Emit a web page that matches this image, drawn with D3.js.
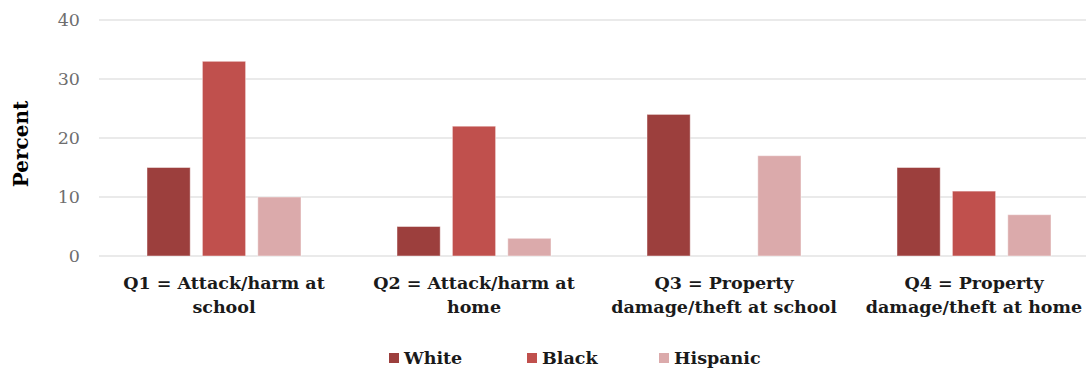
<!DOCTYPE html>
<html>
<head>
<meta charset="utf-8">
<script src="https://cdn.jsdelivr.net/npm/d3@7"></script>
<style>
  html, body { margin: 0; padding: 0; background: #fff; }
  svg { display: block; }
</style>
</head>
<body>
<svg id="chart" width="1086" height="370"></svg>
<script>
// Survey questions (two-line category labels)
const categories = ["Q1", "Q2", "Q3", "Q4"];
const categoryLabels = [
  ["Q1 = Attack/harm at", "school"],
  ["Q2 = Attack/harm at", "home"],
  ["Q3 = Property", "damage/theft at school"],
  ["Q4 = Property", "damage/theft at home"]
];
const seriesNames = ["White", "Black", "Hispanic"];
const whiteValues = [15, 5, 24, 15];
const blackValues = [33, 22, 0, 11];
const hispanicValues = [10, 3, 17, 7];
const yTicks = [0, 10, 20, 30, 40];

const seriesValues = [whiteValues, blackValues, hispanicValues];
const colors = ["#9c3f3d", "#c0504d", "#dbaaab"];

const svg = d3.select("#chart");
const margin = { left: 99, right: -13, top: 20, bottom: 114 };
const W = 1086, H = 370;

const x = d3.scaleBand().domain(categories)
  .range([margin.left, W - margin.right]).paddingInner(0).paddingOuter(0);
const xs = d3.scaleBand().domain(seriesNames)
  .range([0, 154]).paddingInner(0.22).paddingOuter(0);
const y = d3.scaleLinear().domain([0, 40]).range([H - margin.bottom, margin.top]);

const serif = "'DejaVu Serif', 'Liberation Serif', serif";

// gridlines
svg.append("g").selectAll("line").data(yTicks).join("line")
  .attr("x1", margin.left).attr("x2", W)
  .attr("y1", d => y(d)).attr("y2", d => y(d))
  .attr("stroke", "#e3e3e3").attr("stroke-width", 1.5);

// y axis labels
const yAxis = d3.axisLeft(y).tickValues(yTicks).tickSize(0).tickPadding(0);
const gy = svg.append("g").attr("transform", `translate(${margin.left - 19},0)`).call(yAxis);
gy.select(".domain").remove();
gy.selectAll("text")
  .attr("font-family", serif).attr("font-size", 17.5).attr("fill", "#6e6e6e");

// y axis title
svg.append("text")
  .attr("transform", `translate(28,${(y(0) + y(40)) / 2 + 6}) rotate(-90)`)
  .attr("text-anchor", "middle")
  .attr("font-family", serif).attr("font-weight", "bold").attr("font-size", 20)
  .attr("fill", "#000").text("Percent");

// bars
const groups = svg.append("g").selectAll("g").data(categories).join("g")
  .attr("transform", d => `translate(${x(d) + (x.bandwidth() - 154) / 2},0)`);

groups.selectAll("rect")
  .data((c, i) => seriesNames.map((s, j) => ({ s, j, v: seriesValues[j][i] })).filter(d => d.v > 0))
  .join("rect")
  .attr("x", d => xs(d.s))
  .attr("width", xs.bandwidth())
  .attr("y", d => y(d.v))
  .attr("height", d => y(0) - y(d.v))
  .attr("fill", d => colors[d.j])
  .attr("stroke", "rgba(255,255,255,0.45)")
  .attr("stroke-width", 1);

// category labels
const xl = svg.append("g").selectAll("text").data(categories).join("text")
  .attr("x", d => x(d) + x.bandwidth() / 2)
  .attr("y", 289)
  .attr("text-anchor", "middle")
  .attr("font-family", serif).attr("font-weight", "bold").attr("font-size", 17.5)
  .attr("fill", "#1a1a1a");
xl.selectAll("tspan").data((d, i) => categoryLabels[i]).join("tspan")
  .attr("x", function () { return this.parentNode.getAttribute("x"); })
  .attr("dy", (d, i) => i === 0 ? 0 : 24)
  .text(d => d);

// legend
const legendX = [389, 527, 659];
const lg = svg.append("g").selectAll("g").data(seriesNames).join("g")
  .attr("transform", (d, i) => `translate(${legendX[i]},353)`);
lg.append("rect").attr("width", 10).attr("height", 10).attr("fill", (d, i) => colors[i]);
lg.append("text").attr("x", 15).attr("y", 11)
  .attr("font-family", serif).attr("font-weight", "bold").attr("font-size", 17.5)
  .attr("fill", "#1a1a1a").text(d => d);
</script>
</body>
</html>
